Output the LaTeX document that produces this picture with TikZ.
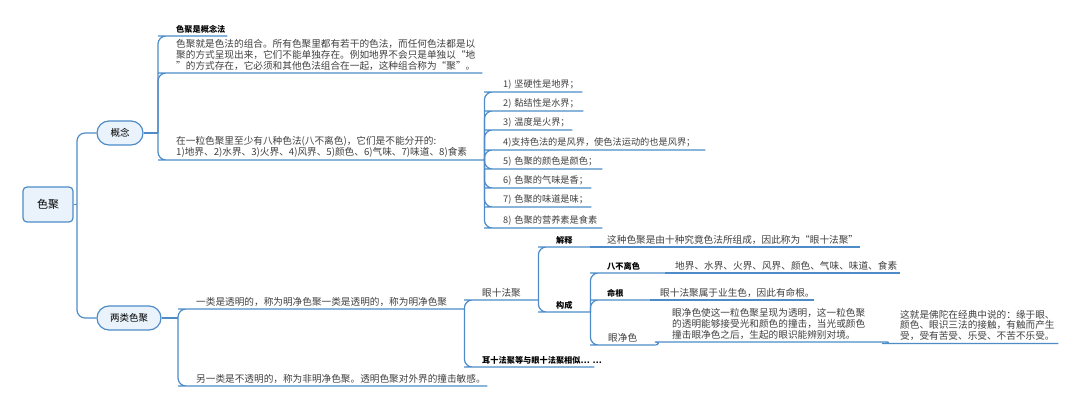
\documentclass[tikz,border=0pt]{standalone}
\usepackage{fontspec}
\setmainfont{Noto Sans CJK SC}
\definecolor{lnc}{HTML}{4D8CC8}
\definecolor{bxc}{HTML}{EAF3FC}
\definecolor{txc}{HTML}{404040}
\tikzset{
  conn/.style={draw=lnc, line width=1.2pt, rounded corners=8pt},
  topbox/.style={draw=lnc, fill=bxc, line width=1.2pt, text=black, inner sep=0pt},
  tp/.style={anchor=south west, inner ysep=2.5pt, align=left, text=txc,
    font=\fontsize{9.65}{10.8}\selectfont},
  lb/.style={tp, text=black, font=\bfseries\fontsize{8.2}{9}\selectfont},
  it/.style={tp, font=\fontsize{9.2}{10.5}\selectfont},
  geo/.style 2 args={inner xsep=#1, text width=#2}
}
\begin{document}
\begin{tikzpicture}[x=1pt,y=-1pt]
\useasboundingbox (0,0) rectangle (1080,409);
\fill[white] (0,0) rectangle (1080,409);

% main boxes
\node[topbox, rounded corners=4pt, minimum width=50pt, minimum height=35pt,
  font=\fontsize{11}{13}\selectfont] (root) at (48,204.5) {色聚};
\node[topbox, rounded corners=12pt, minimum width=46pt, minimum height=24pt,
  font=\fontsize{9.5}{11}\selectfont] (gn) at (120,133) {概念};
\node[topbox, rounded corners=12pt, minimum width=64pt, minimum height=24pt,
  font=\fontsize{9.5}{11}\selectfont] (lc) at (129,318) {两类色聚};

\coordinate (j0) at (77,204.5);
\coordinate (j1) at (158,133);
\coordinate (j3) at (178,318);

% concept branch
\node[lb, geo={10pt}{41pt}] (c1) at (166,36) {色聚是概念法};
\node[tp, geo={10pt}{296pt}] (c2) at (166,73) {色聚就是色法的组合。所有色聚里都有若干的色法，而任何色法都是以\\聚的方式呈现出来，它们不能单独存在。例如地界不会只是单独以“地\\”的方式存在，它必须和其他色法组合在一起，这种组合称为“聚”。};
\node[tp, geo={10pt}{298pt}] (c3) at (166,160) {在一粒色聚里至少有八种色法(八不离色)，它们是不能分开的:\\1)地界、2)水界、3)火界、4)风界、5)颜色、6)气味、7)味道、8)食素};

\node[it, geo={11pt}{68pt}] (i1) at (492,92) {1)~坚硬性是地界；};
\node[it, geo={11pt}{69pt}] (i2) at (492,111) {2)~黏结性是水界；};
\node[it, geo={11pt}{58pt}] (i3) at (492,130) {3)~温度是火界；};
\node[it, geo={11pt}{191pt}] (i4) at (492,150) {4)支持色法的是风界，使色法运动的也是风界；};
\node[it, geo={11pt}{88pt}] (i5) at (492,169) {5)~色聚的颜色是颜色；};
\node[it, geo={11pt}{77pt}] (i6) at (492,188) {6)~色聚的气味是香；};
\node[it, geo={11pt}{77pt}] (i7) at (492,207) {7)~色聚的味道是味；};
\node[it, geo={11pt}{88pt}] (i8) at (492,228) {8)~色聚的营养素是食素};

% two kinds branch
\node[tp, geo={10pt}{258pt}] (d1) at (186,309) {一类是透明的，称为明净色聚一类是透明的，称为明净色聚};
\node[tp, geo={10pt}{281pt}] (d2) at (186,386) {另一类是不透明的，称为非明净色聚。透明色聚对外界的撞击敏感。};

\node[tp, geo={10pt}{46pt}] (e1) at (472,300) {眼十法聚};
\node[lb, geo={10pt}{102pt}] (e2) at (472,367) {耳十法聚等与眼十法聚相似…~…};

\node[lb, geo={10pt}{24pt}] (f1) at (546,247) {解释};
\node[lb, geo={10pt}{24pt}] (f2) at (546,312) {构成};

\node[tp, geo={9pt}{244pt}] (g1) at (598,247) {这种色聚是由十种究竟色法所组成，因此称为“眼十法聚”};

\node[lb, geo={9pt}{49pt}] (h1) at (598,273) {八不离色};
\node[tp, geo={10pt}{215pt}] (h1c) at (665,273) {地界、水界、火界、风界、颜色、气味、味道、食素};
\node[lb, geo={9pt}{34pt}] (h2) at (598,300) {命根};
\node[tp, geo={10pt}{144pt}] (h2c) at (650,300) {眼十法聚属于业生色，因此有命根。};
\node[tp, geo={10pt}{37pt}] (h3) at (598,345) {眼净色};
\node[tp, geo={9pt}{207pt}] (pa) at (663,342) {眼净色使这一粒色聚呈现为透明，这一粒色聚\\的透明能够接受光和颜色的撞击，当光或颜色\\撞击眼净色之后，生起的眼识能辨别对境。};
\node[tp, geo={10pt}{148pt}] (pb) at (890,343.5) {这就是佛陀在经典中说的：缘于眼、\\颜色、眼识三法的接触，有触而产生\\受，受有苦受、乐受、不苦不乐受。};

% connectors
\draw[conn] (root.east) -- (j0);
\draw[conn] (j0) |- (gn.west);
\draw[conn] (j0) |- (lc.west);

\draw[conn] (gn.east) -- (j1);
\foreach \n in {c1,c2,c3}
  \draw[conn] (j1) |- (\n.south west) -- (\n.south east);
\foreach \n in {i1,i2,i3,i4,i5,i6,i7,i8}
  \draw[conn] (c3.south east) |- (\n.south west) -- (\n.south east);

\draw[conn] (lc.east) -- (j3);
\foreach \n in {d1,d2}
  \draw[conn] (j3) |- (\n.south west) -- (\n.south east);
\foreach \n in {e1,e2}
  \draw[conn] (d1.south east) |- (\n.south west) -- (\n.south east);
\foreach \n in {f1,f2}
  \draw[conn] (e1.south east) |- (\n.south west) -- (\n.south east);
\draw[conn] (f1.south east) -- (g1.south west) -- (g1.south east);
\foreach \n in {h1,h2,h3}
  \draw[conn] (f2.south east) |- (\n.south west) -- (\n.south east);
\draw[conn] (h1.south east) -- (h1c.south west) -- (h1c.south east);
\draw[conn] (h2.south east) -- (h2c.south west) -- (h2c.south east);
\draw[conn] (h3.south east) to[out=0,in=180] (pa.south west) -- (pa.south east);
\draw[conn] (pa.south east) to[out=0,in=180] (pb.south west) -- (pb.south east);
\end{tikzpicture}
\end{document}
